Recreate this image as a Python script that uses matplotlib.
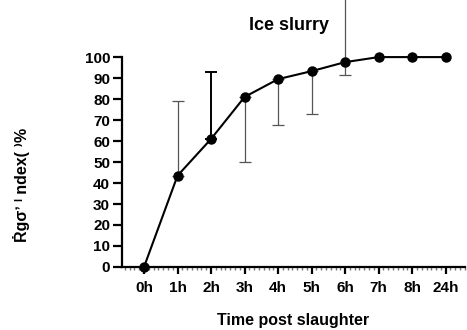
import numpy as np
import matplotlib
matplotlib.use('Agg')
import matplotlib.pyplot as plt
from matplotlib.ticker import MultipleLocator

plt.rcParams['font.family'] = ['Liberation Sans', 'DejaVu Sans']
plt.rcParams['font.weight'] = 'bold'

# ── Data ──────────────────────────────────────────────────────────────────────
labels   = ['0h', '1h', '2h', '3h', '4h', '5h', '6h', '7h', '8h', '24h']
means    = [0.0, 43.5, 61.0, 81.0, 89.5, 93.3, 97.6, 100.0, 100.0, 100.0]
err_low  = [0.0, 0.0, 0.0, 31.0, 22.0, 20.3, 6.2, 0.0, 0.0, 0.0]
err_high = [0.0, 35.5, 32.0, 0.0, 0.0, 0.0, 40.0, 0.0, 0.0, 0.0]
dark_bar = '2h'   # the one error bar drawn in black

x = np.arange(len(labels))

fig = plt.figure(figsize=(4.67, 3.30), dpi=100)
ax = fig.add_axes([0.261, 0.191, 0.735, 0.636])

# error bars (thin grey, one black)
for i, lab in enumerate(labels):
    if err_low[i] == 0 and err_high[i] == 0:
        continue
    black = lab == dark_bar
    ax.errorbar(x[i], means[i], yerr=[[err_low[i]], [err_high[i]]],
                fmt='none', ecolor='black' if black else '#555555',
                elinewidth=1.4 if black else 0.9, capsize=4.5,
                capthick=1.4 if black else 0.9, clip_on=False, zorder=3)

ax.plot(x, means, color='black', lw=1.5, marker='o', ms=6.5,
        clip_on=False, zorder=5)

ax.set_xlim(-0.66, 9.58)
ax.set_ylim(0, 100)
ax.set_xticks(x)
ax.set_xticklabels(labels, fontsize=11, fontweight='bold')
ax.set_yticks(np.arange(0, 101, 10))
ax.set_yticklabels([str(v) for v in range(0, 101, 10)],
                   fontsize=11, fontweight='bold')
ax.xaxis.set_minor_locator(MultipleLocator(1/7))

for side in ['top', 'right']:
    ax.spines[side].set_visible(False)
ax.spines['left'].set_linewidth(1.6)
ax.spines['bottom'].set_linewidth(1.6)

ax.tick_params(axis='y', which='major', direction='out', length=6.5,
               width=1.6, pad=2)
ax.tick_params(axis='x', which='major', direction='out', length=5,
               width=1.6, pad=5)
ax.tick_params(axis='x', which='minor', direction='out', length=2,
               width=1, color='#777777')

ax.set_xlabel('Time post slaughter', fontsize=11.5, fontweight='bold',
              labelpad=13)
fig.text(0.047, 0.44, 'Ṙgσʼ ˡ ndex( ⁾%', rotation=90, fontsize=11.5,
         fontweight='bold', ha='center', va='center')
fig.text(0.619, 0.922, 'Ice slurry', fontsize=13, fontweight='bold',
         ha='center', va='center')

fig.savefig('out.png', dpi=100, facecolor='white')
